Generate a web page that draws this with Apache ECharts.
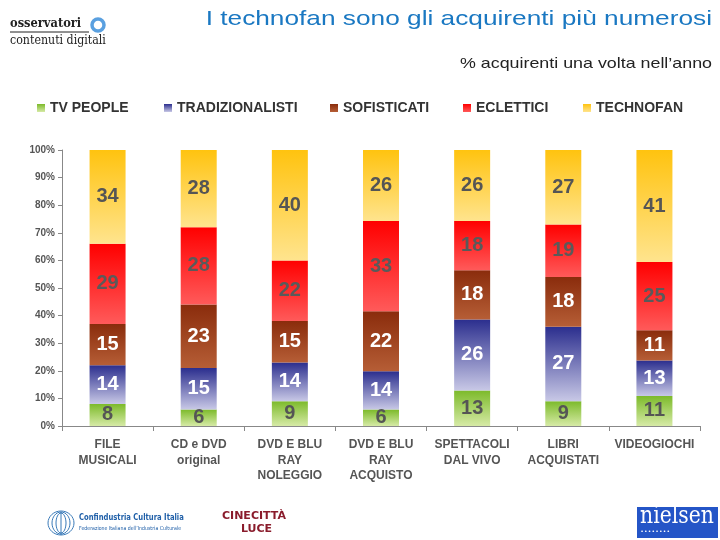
<!DOCTYPE html>
<html><head><meta charset="utf-8">
<script src="https://cdn.jsdelivr.net/npm/echarts@6/dist/echarts.min.js"></script>
<style>html,body{margin:0;padding:0;background:#fff}#c{width:720px;height:540px}</style>
</head><body><div id="c"></div>
<script>
const categories = ['FILE\nMUSICALI','CD e DVD\noriginal','DVD E BLU\nRAY\nNOLEGGIO','DVD E BLU\nRAY\nACQUISTO','SPETTACOLI\nDAL VIVO','LIBRI\nACQUISTATI','VIDEOGIOCHI'];
const seriesNames = ['TV PEOPLE','TRADIZIONALISTI','SOFISTICATI','ECLETTICI','TECHNOFAN'];
const tvPeople = [8, 6, 9, 6, 13, 9, 11];
const tradizionalisti = [14, 15, 14, 14, 26, 27, 13];
const sofisticati = [15, 23, 15, 22, 18, 18, 11];
const eclettici = [29, 28, 22, 33, 18, 19, 25];
const technofan = [34, 28, 40, 26, 26, 27, 41];
const yTicks = [0,10,20,30,40,50,60,70,80,90,100];

const allSeries = [tvPeople, tradizionalisti, sofisticati, eclettici, technofan];
const totals = categories.map((c,i)=>allSeries.reduce((s,a)=>s+a[i],0));
const grads = [
  ['#7cba2a','#d6eaa6'],
  ['#2b2e8e','#c8c8e6'],
  ['#8a2c0c','#b65e36'],
  ['#ff0000','#ff5a5a'],
  ['#ffc30f','#ffe48e']
];
const labelColors = ['#555','#fff','#fff','#5a5a5a','#555'];
function grad(i){
  return new echarts.graphic.LinearGradient(0,0,0,1,[{offset:0,color:grads[i][0]},{offset:1,color:grads[i][1]}]);
}
const legendX = [37,164,330,463,583];

const chart = echarts.init(document.getElementById('c'));
chart.setOption({
  animation:false,
  legend: seriesNames.map((n,i)=>({data:[n],left:legendX[i],top:101,padding:0,itemWidth:8,itemHeight:8,itemGap:5,
    icon:'rect',textStyle:{fontFamily:'Liberation Sans, Arial',fontSize:14,fontWeight:'bold',color:'#333',padding:[0,0,0,0]}})),
  grid:{left:62,right:20,top:150,bottom:114,containLabel:false},
  xAxis:{type:'category',data:categories,
    axisLine:{lineStyle:{color:'#888',width:1}},
    axisTick:{show:true,length:5,lineStyle:{color:'#888'}},
    axisLabel:{interval:0,margin:11,fontFamily:'Liberation Sans, Arial',fontSize:12,fontWeight:'bold',color:'#555',lineHeight:15.5}},
  yAxis:{type:'value',min:0,max:100,interval:10,
    axisLine:{show:true,lineStyle:{color:'#888'}},
    axisTick:{show:true,length:4,lineStyle:{color:'#888'}},
    splitLine:{show:false},
    axisLabel:{formatter:v=>yTicks.includes(v)?v+'%':'',margin:7,fontFamily:'Liberation Sans, Arial',fontSize:10,fontWeight:'bold',color:'#555'}},
  series: allSeries.map((arr,i)=>({
    name:seriesNames[i],type:'bar',stack:'t',barWidth:36,
    itemStyle:{color:grad(i)},
    data:arr.map((v,j)=>({value:v/totals[j]*100,raw:v})),
    label:{show:true,position:'inside',formatter:p=>String(arr[p.dataIndex]),
      fontFamily:'Liberation Sans, Arial',fontSize:20,fontWeight:'bold',color:labelColors[i]}
  })),
  graphic:[
    {type:'text',x:712,y:9,scaleX:1.25,style:{text:'I technofan sono gli acquirenti più numerosi',textAlign:'right',font:'21px "Liberation Sans", Arial',fill:'#1a78c2'}},
    {type:'text',x:712,y:56,scaleX:1.19,style:{text:'% acquirenti una volta nell’anno',textAlign:'right',font:'15px "Liberation Sans", Arial',fill:'#222'}},
    {type:'text',x:10,y:17,scaleX:0.88,style:{text:'osservatori',font:'bold 13px "DejaVu Serif", serif',fill:'#222'}},
    {type:'line',shape:{x1:10,y1:32,x2:89,y2:32},style:{stroke:'#222',lineWidth:1}},
    {type:'circle',shape:{cx:98,cy:25,r:6},style:{fill:'none',stroke:'#5aa0e0',lineWidth:3.5}},
    {type:'text',x:10,y:35,scaleX:0.92,style:{text:'contenuti digitali',font:'12px "DejaVu Serif", serif',fill:'#222'}},
    {type:'ellipse',shape:{cx:61,cy:523,rx:13,ry:12},style:{fill:'none',stroke:'#3a7ab8',lineWidth:1}},
    {type:'ellipse',shape:{cx:61,cy:523,rx:9,ry:11},style:{fill:'none',stroke:'#3a7ab8',lineWidth:1}},
    {type:'ellipse',shape:{cx:61,cy:523,rx:5,ry:10},style:{fill:'none',stroke:'#3a7ab8',lineWidth:1}},
    {type:'line',shape:{x1:61,y1:512,x2:61,y2:535},style:{stroke:'#3a7ab8',lineWidth:1}},
    {type:'text',x:79,y:513,scaleX:0.72,style:{text:'Confindustria Cultura Italia',font:'bold 9.5px "DejaVu Sans", sans-serif',fill:'#1f5fa8'}},
    {type:'text',x:79,y:526,scaleX:0.85,style:{text:'Federazione Italiana dell’Industria Culturale',font:'5.5px "DejaVu Sans", sans-serif',fill:'#1f5fa8'}},
    {type:'text',x:222,y:511,style:{text:'CINECITTÀ',font:'bold 11px "DejaVu Sans", sans-serif',fill:'#8a1c2c'}},
    {type:'text',x:241,y:524,style:{text:'LUCE',font:'bold 11px "DejaVu Sans", sans-serif',fill:'#8a1c2c'}},
    {type:'rect',shape:{x:637,y:507,width:81,height:31},style:{fill:'#2455c7'}},
    {type:'text',x:640,y:505,style:{text:'nielsen',font:'24px "DejaVu Serif", serif',fill:'#fff'},scaleX:0.85},
    {type:'text',x:641,y:528,style:{text:'• • • • • • • •',font:'6px sans-serif',fill:'#fff'}}
  ]
});
</script>
</body></html>
